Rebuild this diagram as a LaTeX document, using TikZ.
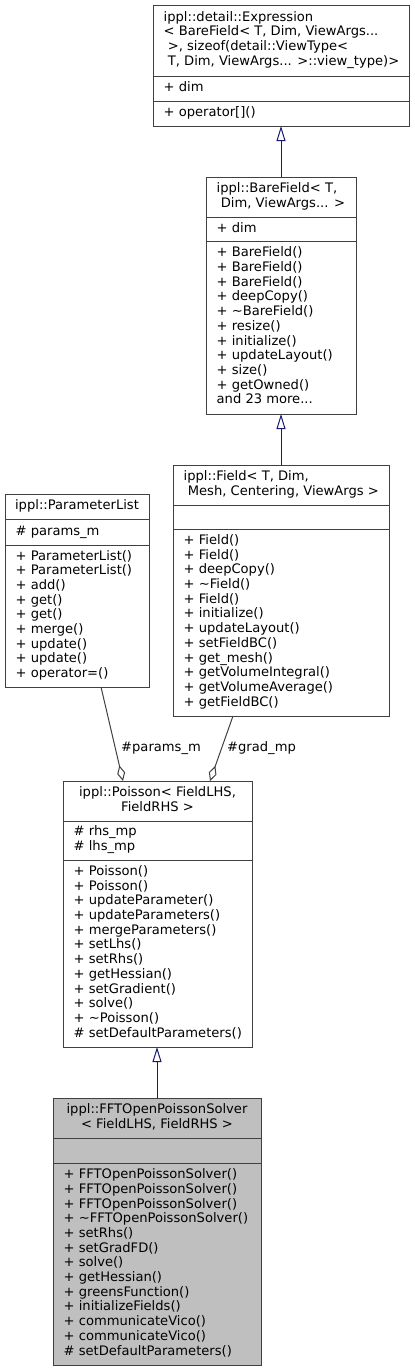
\documentclass[tikz,border=0pt]{standalone}
\usepackage{fontspec}
\setmainfont{DejaVu Sans}
\usetikzlibrary{arrows.meta}
\definecolor{bord}{HTML}{404040}
\definecolor{inh}{HTML}{191970}
\definecolor{curfill}{HTML}{BFBFBF}
\newcommand\tl{\textasciitilde}
\newcommand\lsp{\hspace*{0.318em}}
\begin{document}
\begin{tikzpicture}[x=1pt,y=-1pt,
 box/.style={draw=bord, line width=1pt, rectangle, anchor=north west, inner sep=0pt, outer sep=0pt, fill=white},
 curbox/.style={box, fill=curfill},
 sep/.style={draw=bord, line width=1pt},
 txt/.style={inner sep=0pt, font=\fontsize{13.1}{14.7}\selectfont, execute at begin node=\strut, anchor=north west, align=left},
 ttl/.style={txt, anchor=north, align=center},
 inherit/.style={draw=inh, line width=1pt, -{Triangle[open, length=15pt, width=9pt, fill=white]}},
 usage/.style={draw=bord, line width=1pt, -{Diamond[open, length=16pt, width=8pt, fill=white]}},
 lbl/.style={inner sep=0pt, font=\fontsize{13.1}{14.7}\selectfont, anchor=west}]
\useasboundingbox (0,0) rectangle (415,1371);

% Box 1: Expression
\node[box, minimum width=256pt, minimum height=121pt] (expr) at (153,5) {};
\draw[sep] ([yshift=-71pt]expr.north west) -- ([yshift=-71pt]expr.north east);
\draw[sep] ([yshift=-96pt]expr.north west) -- ([yshift=-96pt]expr.north east);
\node[txt] (exprt) at (163.5,11.1) {ippl::detail::Expression\\\textless{} BareField\textless{} T, Dim, ViewArgs...\\\lsp\textgreater{}, sizeof(detail::ViewType\textless{}\\\lsp T, Dim, ViewArgs... \textgreater{}::view\_type)\textgreater{}};
\node[txt] (expra) at (163.5,81.15) {+ dim};
\node[txt] (exprm) at (163.5,106.15) {+ operator[]()};

% Box 2: BareField
\node[box, minimum width=150pt, minimum height=237pt] (bf) at (206,177) {};
\draw[sep] ([yshift=-40pt]bf.north west) -- ([yshift=-40pt]bf.north east);
\draw[sep] ([yshift=-64pt]bf.north west) -- ([yshift=-64pt]bf.north east);
\node[txt] (bft) at (216.5,182.3) {ippl::BareField\textless{} T,\\\lsp Dim, ViewArgs... \textgreater{}};
\node[txt] (bfa) at (216.5,221.65) {+ dim};
\node[txt] (bfm) at (216.5,246.65) {+ BareField()\\+ BareField()\\+ BareField()\\+ deepCopy()\\+ \tl BareField()\\+ resize()\\+ initialize()\\+ updateLayout()\\+ size()\\+ getOwned()\\and 23 more...};

% Box 3: ParameterList
\node[box, minimum width=144pt, minimum height=193pt] (pl) at (5,494) {};
\draw[sep] ([yshift=-25pt]pl.north west) -- ([yshift=-25pt]pl.north east);
\draw[sep] ([yshift=-51pt]pl.north west) -- ([yshift=-51pt]pl.north east);
\node[ttl] (plt) at (77,499.15) {ippl::ParameterList};
\node[txt] (pla) at (15.5,524.65) {\# params\_m};
\node[txt] (plm) at (15.5,549.85) {+ ParameterList()\\+ ParameterList()\\+ add()\\+ get()\\+ get()\\+ merge()\\+ update()\\+ update()\\+ operator=()};

% Box 4: Field
\node[box, minimum width=216pt, minimum height=251pt] (fd) at (173,465) {};
\draw[sep] ([yshift=-40pt]fd.north west) -- ([yshift=-40pt]fd.north east);
\draw[sep] ([yshift=-64pt]fd.north west) -- ([yshift=-64pt]fd.north east);
\node[txt] (fdt) at (183.5,470.3) {ippl::Field\textless{} T, Dim,\\\lsp Mesh, Centering, ViewArgs \textgreater{}};
\node[txt] (fdm) at (183.5,534.3) {+ Field()\\+ Field()\\+ deepCopy()\\+ \tl Field()\\+ Field()\\+ initialize()\\+ updateLayout()\\+ setFieldBC()\\+ get\_mesh()\\+ getVolumeIntegral()\\+ getVolumeAverage()\\+ getFieldBC()};

% Box 5: Poisson
\node[box, minimum width=189pt, minimum height=266pt] (po) at (63,781) {};
\draw[sep] ([yshift=-40pt]po.north west) -- ([yshift=-40pt]po.north east);
\draw[sep] ([yshift=-79pt]po.north west) -- ([yshift=-79pt]po.north east);
\node[ttl] (pot) at (157.5,786.3) {ippl::Poisson\textless{} FieldLHS,\\ FieldRHS \textgreater{}};
\node[txt] (poa) at (73.5,825.8) {\# rhs\_mp\\\# lhs\_mp};
\node[txt] (pom) at (73.5,865.3) {+ Poisson()\\+ Poisson()\\+ updateParameter()\\+ updateParameters()\\+ mergeParameters()\\+ setLhs()\\+ setRhs()\\+ getHessian()\\+ setGradient()\\+ solve()\\+ \tl Poisson()\\\# setDefaultParameters()};

% Box 6: FFTOpenPoissonSolver
\node[curbox, minimum width=208pt, minimum height=267pt] (fft) at (53,1098) {};
\draw[sep] ([yshift=-40pt]fft.north west) -- ([yshift=-40pt]fft.north east);
\draw[sep] ([yshift=-65pt]fft.north west) -- ([yshift=-65pt]fft.north east);
\node[ttl] (fftt) at (157,1103.3) {ippl::FFTOpenPoissonSolver\\ \textless{} FieldLHS, FieldRHS \textgreater{}};
\node[txt] (fftm) at (63.5,1168.45) {+ FFTOpenPoissonSolver()\\+ FFTOpenPoissonSolver()\\+ FFTOpenPoissonSolver()\\+ \tl FFTOpenPoissonSolver()\\+ setRhs()\\+ setGradFD()\\+ solve()\\+ getHessian()\\+ greensFunction()\\+ initializeFields()\\+ communicateVico()\\+ communicateVico()\\\# setDefaultParameters()};

% Connectors
\draw[inherit] (bf.north) -- (expr.south);
\draw[inherit] (fd.north) -- (bf.south);
\draw[inherit] (fft.north) -- (fft.north |- po.south);
\draw[usage] ([xshift=96pt]pl.south west) -- ([xshift=60pt]po.north west);
\draw[usage] ([xshift=60pt]fd.south west) -- ([xshift=147pt]po.north west);
\node[lbl] (lp) at (121,748) {\#params\_m};
\node[lbl] (lg) at (227,748) {\#grad\_mp};
\end{tikzpicture}
\end{document}
